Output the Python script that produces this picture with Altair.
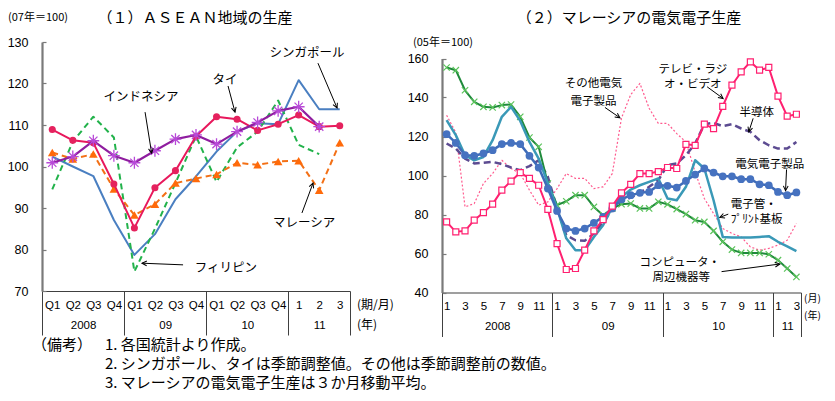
import math
import altair as alt
import pandas as pd

JP = "Noto Sans CJK JP"
NUM = "Liberation Sans Narrow, Liberation Sans, Arial, sans-serif"

# ---------------- (1) ASEAN production (07 = 100) ----------------
left_ticks = ["Q1", "Q2", "Q3", "Q4", "Q1", "Q2", "Q3", "Q4", "Q1", "Q2", "Q3", "Q4", "1", "2", "3"]
left_years = ["2008", "09", "10", "11"]
left_year_centers = [1.5, 5.5, 9.5, 13.0]
left_breaks = [-0.5, 3.5, 7.5, 11.5, 14.5]

singapore = [102.4, 100.0, 97.7, 87.1, 78.7, 83.7, 92.1, 97.6, 103.6, 108.4, 110.4, 110.2, 120.8, 113.8, 113.8]
philippines = [94.5, 106.0, 112.0, 107.0, 74.7, 85.0, 96.0, 107.3, 96.3, 104.6, 108.4, 115.9, 105.2, 103.0, None]
malaysia = [103.4, 101.8, 103.0, 94.6, 88.3, 90.9, 96.0, 97.1, 98.1, 100.9, 100.4, 101.2, 101.4, 94.3, 105.7]
thai = [108.9, 106.3, 105.7, 95.8, 85.2, 94.9, 99.0, 107.3, 112.0, 111.4, 108.7, 110.2, 112.4, 109.6, 109.8]
indonesia = [100.9, 102.4, 106.2, 102.6, 100.9, 103.8, 106.6, 107.6, 105.4, 108.4, 110.6, 113.4, 114.4, 109.6, None]

# ---------------- (2) Malaysia E&E production (05 = 100) ----------------
right_months = [1, 2, 3, 4, 5, 6, 7, 8, 9, 10, 11, 12] * 3 + [1, 2, 3]
right_years = ["2008", "09", "10", "11"]
right_year_centers = [5.5, 17.5, 29.5, 37.0]
right_breaks = [-0.5, 11.5, 23.5, 35.5, 38.5]

computer = [155.4, 154.0, 143.7, 137.8, 135.2, 134.9, 136.1, 136.4, 130.1, 119.5, 114.7, 95.9,
            84.8, 86.8, 89.9, 89.9, 83.9, 79.6, 83.1, 85.3, 85.6, 83.1, 83.1, 86.5,
            85.2, 82.8, 80.2, 77.1, 76.2, 71.6, 66.0, 62.0, 60.3, 60.3, 60.3, 59.6,
            56.6, 52.3, 48.0]
ee_products = [121.2, 116.7, 110.4, 110.1, 111.3, 113.0, 116.1, 116.7, 116.1, 110.1, 104.1, 93.3,
               81.8, 72.8, 71.6, 72.8, 75.7, 78.8, 83.1, 87.7, 89.9, 91.1, 91.6, 95.0,
               94.7, 93.8, 97.2, 100.5, 103.6, 101.5, 99.6, 99.6, 98.1, 98.1, 95.5, 95.0,
               91.6, 89.9, 91.3]
tubes_pcb = [128.4, 120.7, 110.4, 107.8, 109.5, 118.1, 130.1, 135.2, 128.0, 117.2, 108.7, 96.0,
             83.2, 67.8, 61.7, 61.7, 68.5, 74.5, 83.9, 89.0, 92.8, 95.0, 96.7, 98.5,
             88.2, 87.3, 94.2, 107.8, 103.6, 87.3, 68.5, 68.2, 68.2, 68.2, 68.5, 68.9,
             66.0, 63.7, 61.2]
tv_radio_video = [76.2, 71.1, 71.6, 77.1, 81.0, 85.3, 92.5, 97.1, 101.5, 98.5, 95.0, 82.6,
                  65.1, 51.8, 52.3, 61.7, 71.6, 77.4, 84.3, 91.1, 95.5, 101.0, 101.0, 102.0,
                  104.1, 103.6, 116.0, 115.5, 126.3, 124.0, 135.5, 146.3, 153.1, 158.3, 154.0, 155.4,
                  140.7, 130.4, 131.4]
semiconductor = [116.4, 113.8, 108.7, 106.2, 106.5, 107.0, 105.8, 104.1, 102.7, 104.8, 107.8, 99.3,
                 83.2, 69.4, 66.8, 66.5, 70.3, 76.2, 82.2, 86.5, 88.7, 91.1, 94.2, 97.6,
                 105.3, 106.2, 110.4, 116.4, 126.3, 127.0, 125.3, 126.3, 124.1, 122.4, 118.1, 115.5,
                 113.8, 113.8, 117.2]
other_ee = [130.9, 122.0, 83.9, 85.6, 95.9, 101.0, 107.8, 103.6, 101.0, 92.5, 84.8, 86.5,
            93.3, 101.0, 98.5, 98.5, 93.3, 94.2, 101.0, 129.5, 141.5, 147.2, 134.5, 126.7,
            126.7, 121.5, 117.2, 101.9, 88.2, 80.5, 72.8, 70.3, 68.5, 63.4, 61.7, 62.6,
            64.3, 66.8, 75.4]

# annotations (data coordinates of each panel)
left_notes = [("シンガポール", 12.41, 127.3), ("タイ", 8.41, 120.8), ("インドネシア", 4.32, 116.7),
              ("フィリピン", 8.46, 75.5), ("マレーシア", 12.26, 86.5)]
left_arrows = [(12.94, 124.9, 13.87, 114.1), (8.56, 119.4, 8.90, 113.1), (4.52, 113.1, 4.84, 103.2),
               (6.37, 76.3, 4.37, 76.7), (12.16, 88.8, 12.70, 96.0)]
right_notes_c = [("その他電気", 15.95, 146.7), ("電子製品", 15.95, 137.8),
                 ("テレビ・ラジ", 26.75, 154.0), ("オ・ビデオ", 26.75, 146.3),
                 ("半導体", 33.7, 131.8), ("電気電子製品", 35.11, 105.3),
                 ("コンピュータ・", 25.34, 55.0), ("周辺機器等", 25.5, 47.4)]
right_notes_l = [("電子管・", 30.88, 84.8), ("ﾌﾟﾘﾝﾄ基板", 30.88, 77.1)]
right_arrows = [(17.2, 134.9, 18.83, 129.6), (28.3, 145.5, 30.04, 139.5), (33.3, 129.3, 32.83, 122.4),
                (36.93, 103.1, 36.82, 92.2), (30.6, 80.2, 29.68, 78.5), (29.87, 50.7, 36.2, 54.6)]

W, H = 835, 401
L_XR, L_YR = [42, 350], [291, 42]
R_XR, R_YR = [442, 801], [292.5, 58.5]
L_XD, L_YD = [-0.5, 14.5], [70, 130]
R_XD, R_YD = [-0.5, 38.5], [40, 160]


def sc(domain, rng):
    return alt.Scale(domain=domain, range=rng, nice=False, zero=False)


LX, LY = sc(L_XD, L_XR), sc(L_YD, L_YR)
RX, RY = sc(R_XD, R_XR), sc(R_YD, R_YR)


def lin(d, r):
    return lambda v: r[0] + (v - d[0]) * (r[1] - r[0]) / (d[1] - d[0])


DUMMY = pd.DataFrame({"a": [0]})


def series(vals, sx, sy, color, width=2.0, dash=None, point=None):
    df = pd.DataFrame({"i": list(range(len(vals))), "v": vals}).dropna()
    base = alt.Chart(df).encode(x=alt.X("i:Q", scale=sx, axis=None), y=alt.Y("v:Q", scale=sy, axis=None))
    kw = dict(color=color, strokeWidth=width, strokeJoin="round")
    if dash:
        kw["strokeDash"] = dash
    out = [base.mark_line(**kw)]
    if point:
        out.append(base.mark_point(**point))
    return out


def axis_layer(sx, sy, xd, yd, xaxis=None, yaxis=None):
    df = pd.DataFrame({"i": [xd[0]], "v": [yd[0]]})
    return alt.Chart(df).mark_point(opacity=0).encode(
        x=alt.X("i:Q", scale=sx, axis=xaxis, title=None), y=alt.Y("v:Q", scale=sy, axis=yaxis, title=None))


def notes(rows, sx, sy, size, align="center"):
    df = pd.DataFrame(rows, columns=["t", "i", "v"])
    return alt.Chart(df).mark_text(font=JP, fontSize=size, align=align, baseline="middle", color="black").encode(
        x=alt.X("i:Q", scale=sx, axis=None), y=alt.Y("v:Q", scale=sy, axis=None), text="t:N")


def arrows(rows, sx, sy, xd, xr, yd, yr):
    fx, fy = lin(xd, xr), lin(yd, yr)
    df = pd.DataFrame(rows, columns=["x0", "y0", "x1", "y1"])
    df["ang"] = [math.degrees(math.atan2(fx(b[2]) - fx(b[0]), -(fy(b[3]) - fy(b[1])))) % 360 for b in rows]
    line = alt.Chart(df).mark_rule(color="black", strokeWidth=1).encode(
        x=alt.X("x0:Q", scale=sx, axis=None), y=alt.Y("y0:Q", scale=sy, axis=None), x2="x1:Q", y2="y1:Q")
    head = alt.Chart(df).mark_point(shape="M-0.5,1L0,0L0.5,1", filled=False, stroke="black",
                                    strokeWidth=1, size=90, opacity=1).encode(
        x=alt.X("x1:Q", scale=sx, axis=None), y=alt.Y("y1:Q", scale=sy, axis=None),
        angle=alt.Angle("ang:Q", scale=None))
    return [line, head]


def stext(txt, x, y, size=12, align="left", font=JP):
    return alt.Chart(DUMMY).mark_text(text=txt, align=align, baseline="middle", font=font,
                                      fontSize=size, color="black").encode(x=alt.value(x), y=alt.value(y))


def list_expr(lst):
    return "[" + ",".join("'%s'" % s for s in lst) + "][datum.value]"


def year_expr(breaks, years):
    e = "'%s'" % years[-1]
    for b, y in reversed(list(zip(breaks[1:-1], years[:-1]))):
        e = "datum.value < %s ? '%s' : %s" % (b, y, e)
    return e


AX_COMMON = dict(grid=False, labelFlush=False, labelOverlap=False, labelFont=NUM, labelColor="black",
                 title=None)


def panel_axes(sx, sy, xd, yd, xr, yr, tick_vals, tick_expr, ycenters, yexpr, yvals, lab_size):
    off_b = yr[0] - H
    layers = []
    # separators + baseline
    layers.append(axis_layer(sx, sy, xd, yd,
                             xaxis=alt.Axis(orient="bottom", offset=off_b, values=list(ycenters[0]), labels=False,
                                            domain=True, domainColor="#404040", domainWidth=1.2,
                                            ticks=True, tickSize=44, tickColor="#404040", tickWidth=1, **AX_COMMON),
                             yaxis=alt.Axis(orient="left", offset=-xr[0], values=yvals, domain=True,
                                            domainColor="#7a7a7a", domainWidth=2.2, ticks=False,
                                            labelPadding=14, labelFontSize=12.5, **AX_COMMON)))
    # period labels + inward y ticks
    layers.append(axis_layer(sx, sy, xd, yd,
                             xaxis=alt.Axis(orient="bottom", offset=off_b, values=tick_vals, labelExpr=tick_expr,
                                            domain=False, ticks=False, labelPadding=8, labelFontSize=lab_size,
                                            **AX_COMMON),
                             yaxis=alt.Axis(orient="right", offset=xr[0] - W, values=yvals, labels=False,
                                            domain=False, ticks=True, tickSize=4, tickColor="#7a7a7a",
                                            tickWidth=1.2, **AX_COMMON)))
    # year labels
    layers.append(axis_layer(sx, sy, xd, yd,
                             xaxis=alt.Axis(orient="bottom", offset=off_b, values=ycenters[1], labelExpr=yexpr,
                                            domain=False, ticks=False, labelPadding=28, labelFontSize=lab_size,
                                            **AX_COMMON)))
    return layers


layers = []

# ---- left panel ----
layers += panel_axes(LX, LY, L_XD, L_YD, L_XR, L_YR, list(range(15)), list_expr(left_ticks),
                     (left_breaks, left_year_centers), year_expr(left_breaks, left_years),
                     [70, 80, 90, 100, 110, 120, 130], 11.5)
layers += series(singapore, LX, LY, "#4A7FC1", 2.0)
layers += series(philippines, LX, LY, "#22B24B", 2.0, dash=[6, 4])
layers += series(malaysia, LX, LY, "#F37016", 2.0, dash=[6, 4],
                 point=dict(shape="triangle-up", filled=True, color="#FF6A0A", size=75, opacity=1))
layers += series(thai, LX, LY, "#E8185C", 2.0,
                 point=dict(shape="circle", filled=True, color="#E5225E", size=50, opacity=1))
layers += series(indonesia, LX, LY, "#8F1D9F", 2.2,
                 point=dict(shape="M-1,0L1,0M0,-1L0,1M-0.7,-0.7L0.7,0.7M-0.7,0.7L0.7,-0.7",
                            filled=False, stroke="#B84AD8", strokeWidth=1.3, size=140, opacity=1))
layers.append(notes(left_notes, LX, LY, 12.5))
layers += arrows(left_arrows, LX, LY, L_XD, L_XR, L_YD, L_YR)

# ---- right panel ----
layers += panel_axes(RX, RY, R_XD, R_YD, R_XR, R_YR, list(range(0, 39, 2)), list_expr(right_months),
                     (right_breaks, right_year_centers), year_expr(right_breaks, right_years),
                     [40, 60, 80, 100, 120, 140, 160], 11.5)
layers += series(other_ee, RX, RY, "#FF5A8E", 1.2, dash=[2, 2])
layers += series(semiconductor, RX, RY, "#5C4B91", 2.5, dash=[7, 4])
layers += series(computer, RX, RY, "#1F8A3B", 2.0,
                 point=dict(shape="M-1,-1L1,1M-1,1L1,-1", filled=False, stroke="#5CC45C",
                            strokeWidth=1.2, size=40, opacity=1))
layers += series(tubes_pcb, RX, RY, "#3A99B7", 2.5)
layers += series(ee_products, RX, RY, "#3E6BB8", 2.5,
                 point=dict(shape="circle", filled=True, color="#4672C0", size=60, opacity=1))
layers += series(tv_radio_video, RX, RY, "#FF2070", 2.0,
                 point=dict(shape="square", filled=True, fill="white", stroke="#FF2070",
                            strokeWidth=1.2, size=36, opacity=1))
layers.append(notes(right_notes_c, RX, RY, 11.5))
layers.append(notes(right_notes_l, RX, RY, 11.5, align="left"))
layers += arrows(right_arrows, RX, RY, R_XD, R_XR, R_YD, R_YR)

# ---- titles, units, footnotes ----
layers += [
    stext("（１）ＡＳＥＡＮ地域の生産", 195, 18, 15, "center"),
    stext("（２）マレーシアの電気電子生産", 629, 18, 15, "center"),
    stext("(07年＝100)", 8, 18, 11),
    stext("(05年＝100)", 413, 43, 11),
    stext("(期/月)", 357, 305, 12),
    stext("(年)", 357, 325, 12),
    stext("(月)", 804, 299, 10),
    stext("(年)", 804, 316, 10),
    stext("（備考）", 32, 345, 15),
    stext("1. 各国統計より作成。", 105, 345, 15),
    stext("2. シンガポール、タイは季節調整値。その他は季節調整前の数値。", 105, 364, 15),
    stext("3. マレーシアの電気電子生産は３か月移動平均。", 105, 383, 15),
]

chart = alt.layer(*layers).resolve_scale(x="independent", y="independent").properties(
    width=W, height=H, padding=0, autosize=alt.AutoSizeParams(type="none"), background="white"
).configure_view(stroke=None)

chart.save("out.html", embed_options={"renderer": "svg", "actions": False})
